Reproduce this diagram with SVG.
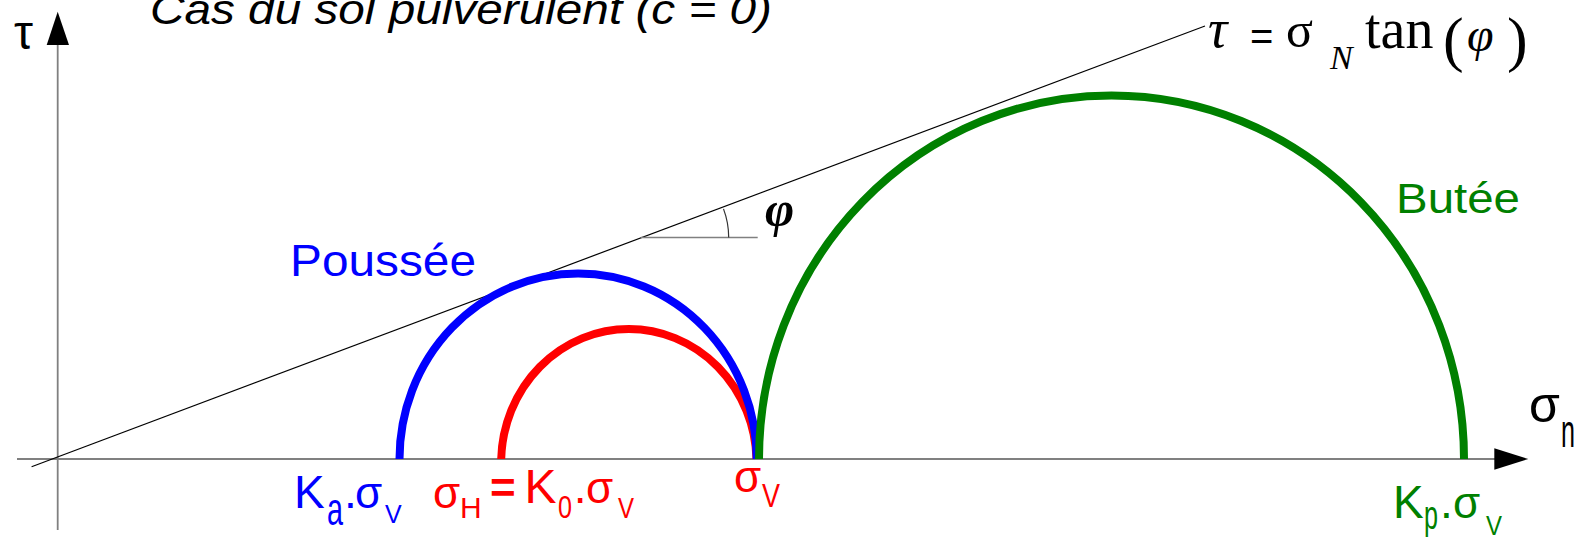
<svg xmlns="http://www.w3.org/2000/svg" width="1581" height="538" viewBox="0 0 1581 538">
<style>
.sans{font-family:"Liberation Sans",Arial,sans-serif}
.serif{font-family:"Liberation Serif","Times New Roman",serif}
.it{font-style:italic}
.blue{fill:#0000ff}
.red{fill:#ff0000}
.green{fill:#008000}
.blk{fill:#000000}
.axis{stroke:#808080;stroke-width:1.8;fill:none}
.arc{fill:none;stroke-width:8;stroke-linecap:butt}
</style>
<rect width="1581" height="538" fill="#ffffff"/>
<g id="title">
<text class="sans it blk" x="150" y="24" font-size="42" textLength="622" lengthAdjust="spacingAndGlyphs">Cas du sol pulvérulent (c = 0)</text>
</g>
<g id="axes">
<line class="axis" x1="17" y1="459" x2="1496" y2="459"/>
<polygon points="1494.3,448.3 1528.3,459 1494.3,469.7" fill="#000000"/>
<line class="axis" x1="57.7" y1="530" x2="57.7" y2="43"/>
<polygon points="46.7,45 57.7,11.7 69,45" fill="#000000"/>
<text class="sans blk" x="14" y="49" font-size="48">τ</text>
<text class="sans blk" x="1529" y="421.7" font-size="50">σ</text>
<text class="sans blk" x="1561" y="446.7" font-size="46" textLength="14" lengthAdjust="spacingAndGlyphs">n</text>
</g>
<g id="envelope">
<line x1="31.6" y1="466.7" x2="1205" y2="26" stroke="#000000" stroke-width="1.2"/>
<line x1="641" y1="237.5" x2="757.7" y2="237.5" stroke="#808080" stroke-width="1.5"/>
<path d="M723.5,208.9 A82,82 0 0 1 728.7,237.5" fill="none" stroke="#333333" stroke-width="1.2"/>
<text class="serif it blk" x="765" y="226" font-size="50" font-weight="bold">φ</text>
</g>
<g id="equation">
<text class="serif it blk" x="1208" y="47" font-size="54">τ</text>
<text class="sans blk" x="1250" y="50" font-size="40">=</text>
<text class="serif blk" x="1286" y="47" font-size="50">σ</text>
<text class="serif it blk" x="1330" y="69" font-size="34">N</text>
<text class="serif blk" x="1365" y="48" font-size="56">tan</text>
<text class="serif blk" x="1443" y="60" font-size="62">(</text>
<text class="serif it blk" x="1467" y="51" font-size="48">φ</text>
<text class="serif blk" x="1507" y="60" font-size="62">)</text>
</g>
<g id="circle-repos">
<path class="arc" stroke="#ff0000" d="M501.2,459 A127.7,133.7 0 0 1 756.5,459"/>
</g>
<g id="circle-poussee">
<path class="arc" stroke="#0000ff" d="M399.5,459 A178.6,185.5 0 0 1 756.7,459"/>
<text class="sans blue" x="290" y="276" font-size="44" textLength="186" lengthAdjust="spacingAndGlyphs">Poussée</text>
</g>
<g id="circle-butee">
<path class="arc" stroke="#008000" d="M759,459 A352.5,363.5 0 0 1 1464,459"/>
<text class="sans green" x="1396" y="213" font-size="43" textLength="124" lengthAdjust="spacingAndGlyphs">Butée</text>
</g>
<g id="label-ka">
<text class="sans blue" x="294" y="508" font-size="46">K</text>
<text class="sans blue" x="327" y="525" font-size="46" textLength="16" lengthAdjust="spacingAndGlyphs">a</text>
<text class="sans blue" x="344" y="508" font-size="46">.</text>
<text class="sans blue" x="355" y="508" font-size="44">σ</text>
<text class="sans blue" x="385" y="523" font-size="25">V</text>
</g>
<g id="label-k0">
<text class="sans red" x="433" y="508" font-size="44">σ</text>
<text class="sans red" x="460" y="518" font-size="30">H</text>
<text class="sans red" x="490" y="503" font-size="44" font-weight="bold">=</text>
<text class="sans red" x="524.6" y="502.7" font-size="48">K</text>
<text class="sans red" x="558" y="518" font-size="32" textLength="14" lengthAdjust="spacingAndGlyphs">0</text>
<text class="sans red" x="573.7" y="503" font-size="46">.</text>
<text class="sans red" x="586" y="503" font-size="44">σ</text>
<text class="sans red" x="618" y="518" font-size="30" textLength="16" lengthAdjust="spacingAndGlyphs">V</text>
</g>
<g id="label-sv">
<text class="sans red" x="734" y="491.7" font-size="44">σ</text>
<text class="sans red" x="762" y="507" font-size="34" textLength="18" lengthAdjust="spacingAndGlyphs">V</text>
</g>
<g id="label-kp">
<text class="sans green" x="1393" y="518" font-size="46">K</text>
<text class="sans green" x="1424" y="528.6" font-size="40" textLength="14" lengthAdjust="spacingAndGlyphs">p</text>
<text class="sans green" x="1440" y="518" font-size="46">.</text>
<text class="sans green" x="1453" y="518" font-size="44">σ</text>
<text class="sans green" x="1486" y="535" font-size="28" textLength="16" lengthAdjust="spacingAndGlyphs">V</text>
</g>
</svg>
